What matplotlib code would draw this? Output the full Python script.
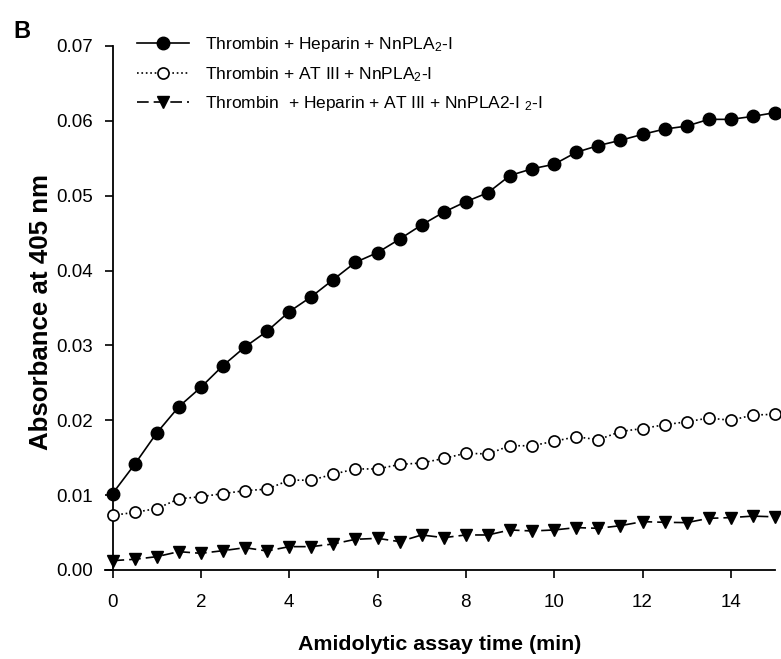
import matplotlib
matplotlib.use("Agg")
import matplotlib.pyplot as plt
from matplotlib import font_manager
import numpy as np

names = {f.name for f in font_manager.fontManager.ttflist}
narrow = 'Liberation Sans Narrow' if 'Liberation Sans Narrow' in names else 'Liberation Sans'

plt.rcParams['font.family'] = ['Liberation Sans', 'DejaVu Sans']
plt.rcParams['mathtext.fontset'] = 'custom'
plt.rcParams['mathtext.rm'] = 'Liberation Sans'
plt.rcParams['mathtext.it'] = 'Liberation Sans'

time_min = [i * 0.5 for i in range(31)]

heparin_pla2 = [0.0102, 0.0141, 0.0183, 0.0218, 0.0244, 0.0273, 0.0298, 0.0319,
                0.0345, 0.0365, 0.0388, 0.0411, 0.0424, 0.0442, 0.0461, 0.0478,
                0.0492, 0.0504, 0.0527, 0.0536, 0.0542, 0.0558, 0.0567, 0.0574,
                0.0582, 0.0589, 0.0593, 0.0602, 0.0602, 0.0606, 0.0611]

at3_pla2 = [0.0073, 0.0077, 0.0082, 0.0095, 0.0098, 0.0102, 0.0106, 0.0108,
            0.0120, 0.0120, 0.0128, 0.0135, 0.0135, 0.0141, 0.0143, 0.0149,
            0.0156, 0.0155, 0.0166, 0.0166, 0.0172, 0.0178, 0.0174, 0.0185,
            0.0189, 0.0194, 0.0198, 0.0203, 0.0200, 0.0207, 0.0208]

heparin_at3_pla2 = [0.00125, 0.00143, 0.00178, 0.00245, 0.00223, 0.00258, 0.00298, 0.00254,
                    0.00312, 0.00312, 0.00348, 0.0041, 0.00423, 0.00379, 0.00468, 0.00432,
                    0.00468, 0.00468, 0.00535, 0.00521, 0.00535, 0.00566, 0.00557, 0.00592,
                    0.00646, 0.00637, 0.00633, 0.0069, 0.0070, 0.0072, 0.0071]

labels = ["Thrombin + Heparin + NnPLA$_2$-I",
          "Thrombin + AT III + NnPLA$_2$-I",
          "Thrombin  + Heparin + AT III + NnPLA2-I $_2$-I"]

xticks = [0, 2, 4, 6, 8, 10, 12, 14]
yticks = [0.00, 0.01, 0.02, 0.03, 0.04, 0.05, 0.06, 0.07]

fig = plt.figure(figsize=(7.81, 6.59), dpi=100)
ax = fig.add_axes([105/781, 1 - 570/659, 670/781, 524/659])

ax.plot(time_min, heparin_pla2, '-', color='black', lw=1.2, marker='o',
        markersize=9, markerfacecolor='black', markeredgecolor='black',
        label=labels[0], clip_on=False, zorder=3)
ax.plot(time_min, at3_pla2, ':', color='black', lw=1.2, marker='o',
        markersize=8, markerfacecolor='white', markeredgecolor='black', markeredgewidth=1.2,
        label=labels[1], clip_on=False, zorder=3)
ax.plot(time_min, heparin_at3_pla2, '--', color='black', lw=1.2, marker='v',
        markersize=9, markerfacecolor='black', markeredgecolor='black', label=labels[2],
        dashes=(7, 3), clip_on=False, zorder=3)

ax.set_xlim(-0.17, 15)
ax.set_ylim(0, 0.07)
ax.spines['left'].set_position(('data', 0))
ax.spines['top'].set_visible(False)
ax.spines['right'].set_visible(False)
ax.spines['left'].set_linewidth(1.3)
ax.spines['bottom'].set_linewidth(1.3)
ax.set_xticks(xticks)
ax.set_yticks(yticks)
ax.set_yticklabels([f"{v:.2f}" for v in yticks])
tick_size = 14 if narrow != 'Liberation Sans' else 13.5
ax.tick_params(direction='out', length=6, width=1.2, labelsize=tick_size, pad=8)
ax.tick_params(axis='x', pad=11)
for t in ax.get_xticklabels() + ax.get_yticklabels():
    t.set_family([narrow, 'Liberation Sans'])

ysize = 22.5 if narrow != 'Liberation Sans' else 18.6
ax.set_ylabel("Absorbance at 405 nm", fontsize=ysize, fontweight='bold',
              family=[narrow, 'Liberation Sans'])
ax.yaxis.set_label_coords(-0.078, 0.493)
ax.set_xlabel("Amidolytic assay time (min)", fontsize=15.4, fontweight='bold')
ax.xaxis.set_label_coords(0.5, -0.125)

leg = ax.legend(loc='upper left', bbox_to_anchor=(0.024, 1.05), frameon=False,
                fontsize=12.5, numpoints=1, handlelength=3.0, handletextpad=0.92,
                labelspacing=0.6)

fig.text(13/781, 1 - 31/659, "B", fontsize=17, fontweight='bold', ha='left', va='center')

fig.savefig("out.png", dpi=100)
